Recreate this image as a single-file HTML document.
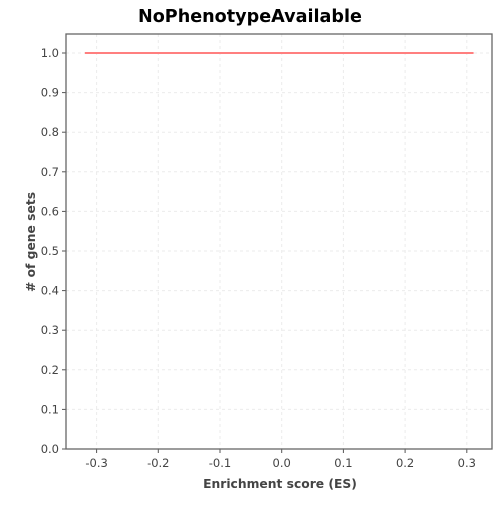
<!DOCTYPE html>
<html><head><meta charset="utf-8"><style>
body{margin:0;background:#fff;font-family:"Liberation Sans","DejaVu Sans",sans-serif}
svg text{font-family:"DejaVu Sans","Liberation Sans",sans-serif}
</style></head><body>
<svg id="chart" width="500" height="500">
<text x="250" y="22" text-anchor="middle" font-size="17.6" font-weight="bold" fill="#000">NoPhenotypeAvailable</text>
<g id="grid"></g>
<g id="axes"></g>
<g id="series"></g>
<text x="280" y="488" text-anchor="middle" font-size="12.3" font-weight="bold" fill="#444">Enrichment score (ES)</text>
<text transform="translate(35,242) rotate(-90)" text-anchor="middle" font-size="12.3" font-weight="bold" fill="#444"># of gene sets</text>
</svg>
<script>
const xTicks=[-0.3,-0.2,-0.1,0.0,0.1,0.2,0.3];
const yTicks=[0,0.1,0.2,0.3,0.4,0.5,0.6,0.7,0.8,0.9,1.0];
const lineX=[-0.319,0.311];
const lineY=[1.0,1.0];
const L=66,R=492,T=34,B=449;
const xs=v=>281.7+v*617;
const ys=v=>449-v*396;
const NS="http://www.w3.org/2000/svg";
function mk(p,t,a){const e=document.createElementNS(NS,t);for(const k in a)e.setAttribute(k,a[k]);p.appendChild(e);return e;}
const g=document.getElementById('grid'),ax=document.getElementById('axes'),s=document.getElementById('series');
xTicks.forEach(v=>{const x=xs(v);
const l=mk(g,'line',{x1:x,x2:x,y1:T,y2:B,stroke:'#ebebeb','stroke-dasharray':'3,3'});


const tk=mk(ax,'line',{x1:x,x2:x,y1:B,y2:B+4,stroke:'#555'});


const t=mk(ax,'text',{x:x,y:B+18,'text-anchor':'middle','font-size':'11.5',fill:'#444'});t.textContent=v.toFixed(1);

});
yTicks.forEach(v=>{const y=ys(v);
const l=mk(g,'line',{x1:L,x2:R,y1:y,y2:y,stroke:'#ebebeb','stroke-dasharray':'3,3'});


const tk=mk(ax,'line',{x1:L-4,x2:L,y1:y,y2:y,stroke:'#555'});


const t=mk(ax,'text',{x:L-7,y:y+4,'text-anchor':'end','font-size':'11.5',fill:'#444'});t.textContent=v.toFixed(1);

});
const box=mk(ax,'rect',{x:L,y:T,width:R-L,height:B-T,fill:'none',stroke:'#666','stroke-width':1.3});


const pts=lineX.map((v,i)=>xs(v)+','+ys(lineY[i])).join(' ');
const pl=mk(s,'polyline',{points:pts,fill:'none',stroke:'#ff7f7f','stroke-width':2});


</script>
</body></html>
